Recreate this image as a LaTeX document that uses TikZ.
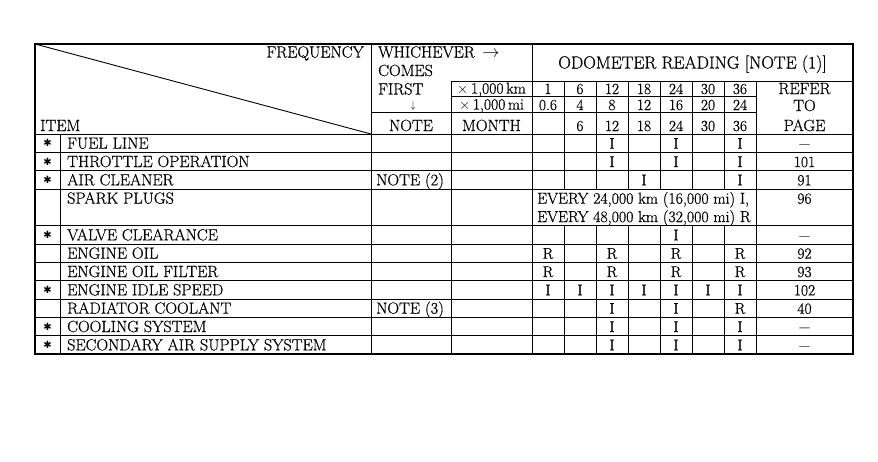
\documentclass[tikz,border=0pt]{standalone}
\usepackage{fontspec}
\usepackage{graphicx}
\setmainfont{Latin Modern Roman}[FakeBold=0.6]
\newfontfamily\symfont{DejaVu Sans}
\newcommand{\refdash}{\scalebox{1.4}[1]{--}}
\begin{document}
\begin{tikzpicture}[x=1pt,y=-1pt,
  txt/.style={inner sep=0pt, anchor=base, font=\fontsize{16.2}{18}\selectfont},
  num/.style={txt, font=\fontsize{15.5}{18}\selectfont},
  unit/.style={txt, font=\fontsize{15.6}{18}\selectfont},
  lt/.style={txt, anchor=base west},
  rt/.style={txt, anchor=base east},
  starmark/.style={inner sep=0pt, anchor=center, font=\symfont\fontsize{10}{10}\selectfont},
  grid/.style={line width=0.9pt, black},
  frame/.style={line width=1.5pt, black}]
\useasboundingbox (0,0) rectangle (878,461);

% ---------- grid lines ----------
% diagonal of the header corner cell
\draw[grid] (35,44) -- (371,134);
% header horizontals
\draw[grid] (451,81) -- (853,81);
\draw[grid] (451,96.5) -- (756,96.5);
\draw[grid] (371,112.5) -- (756,112.5);
\draw[grid] (35,134) -- (853,134);
% row horizontals
\foreach \u in {1,2,3,5,6,7,8,9,10,11}{
  \draw[grid] (35,134+18.3333*\u) -- (853,134+18.3333*\u);
}
% verticals
\draw[grid] (60,134) -- (60,354);
\draw[grid] (371,44) -- (371,354);
\draw[grid] (451,81) -- (451,354);
\draw[grid] (532,44) -- (532,354);
\draw[grid] (756,81) -- (756,354);
\foreach \x in {564,596,628,660,692,724}{
  \draw[grid] (\x,81) -- (\x,189);
  \draw[grid] (\x,225.6667) -- (\x,354);
}
% outer frame
\draw[frame] (35,44) rectangle (853,354);

% ---------- header texts ----------
\node[rt] (freq) at (364,57.5) {FREQUENCY};
\node[lt] (item) at (40,131) {ITEM};
\node[lt] (wh1) at (378,57.5) {WHICHEVER \,$\rightarrow$};
\node[lt] (wh2) at (378,76) {COMES};
\node[lt] (wh3) at (378,94.5) {FIRST};
\node[inner sep=0pt, font=\fontsize{10}{10}\selectfont] (wh4) at (413,105.5) {$\downarrow$};
\node[txt] (note) at (411,131) {NOTE};
\node[txt, font=\fontsize{17.5}{20}\selectfont] (odo) at (692.5,68.5) {ODOMETER READING [NOTE (1)]};
\node[unit] (ukm) at (491.5,93.5) {$\times$\,1,000\,km};
\node[unit] (umi) at (491.5,109.5) {$\times$\,1,000\,mi};
\node[txt] (umo) at (491.5,131) {MONTH};
\node[txt] (refer) at (804.5,94) {REFER};
\node[txt] (to) at (804.5,111) {TO};
\node[txt] (page) at (804.5,131) {PAGE};
\foreach \c/\km/\mi/\mo in {0/1/0.6/, 1/6/4/6, 2/12/8/12, 3/18/12/18, 4/24/16/24, 5/30/20/30, 6/36/24/36}{
  \node[num] (km-\c) at (548+32*\c,94) {\km};
  \node[num] (mi-\c) at (548+32*\c,110) {\mi};
  \node[num] (mo-\c) at (548+32*\c,131) {\mo};
}

% ---------- item rows ----------
\foreach \u/\nm/\st/\rf in {0/FUEL LINE/1/\refdash, 1/THROTTLE OPERATION/1/101,
  2/AIR CLEANER/1/91, 3/SPARK PLUGS/0/96, 5/VALVE CLEARANCE/1/\refdash,
  6/ENGINE OIL/0/92, 7/ENGINE OIL FILTER/0/93, 8/ENGINE IDLE SPEED/1/102,
  9/RADIATOR COOLANT/0/40, 10/COOLING SYSTEM/1/\refdash,
  11/SECONDARY AIR SUPPLY SYSTEM/1/\refdash}{
  \pgfmathsetmacro\yb{134+18.3333*(\u+0.5)+5.5}
  \node[lt] (item-\u) at (67,\yb) {\nm};
  \node[num] (ref-\u) at (804.5,\yb) {\rf};
  \ifnum\st=1
    \node[starmark] (star-\u) at (47.5,\yb-5.5) {✱};
  \fi
}
\node[lt] (note-2) at (376,134+18.3333*2.5+5.5) {NOTE (2)};
\node[lt] (note-9) at (376,134+18.3333*9.5+5.5) {NOTE (3)};
\node[lt, font=\fontsize{15.8}{18}\selectfont] (spark-a) at (537,134+18.3333*3.5+5.5) {EVERY 24,000 km (16,000 mi) I,};
\node[lt, font=\fontsize{15.8}{18}\selectfont] (spark-b) at (537,134+18.3333*4.5+5.5) {EVERY 48,000 km (32,000 mi) R};

% ---------- marks ----------
\foreach \u/\c/\m in {0/2/I, 0/4/I, 0/6/I,
  1/2/I, 1/4/I, 1/6/I,
  2/3/I, 2/6/I,
  5/4/I,
  6/0/R, 6/2/R, 6/4/R, 6/6/R,
  7/0/R, 7/2/R, 7/4/R, 7/6/R,
  8/0/I, 8/1/I, 8/2/I, 8/3/I, 8/4/I, 8/5/I, 8/6/I,
  9/2/I, 9/4/I, 9/6/R,
  10/2/I, 10/4/I, 10/6/I,
  11/2/I, 11/4/I, 11/6/I}{
  \node[num] (m-\u-\c) at (548+32*\c,134+18.3333*\u+9.1667+5.5) {\m};
}
\end{tikzpicture}
\end{document}
